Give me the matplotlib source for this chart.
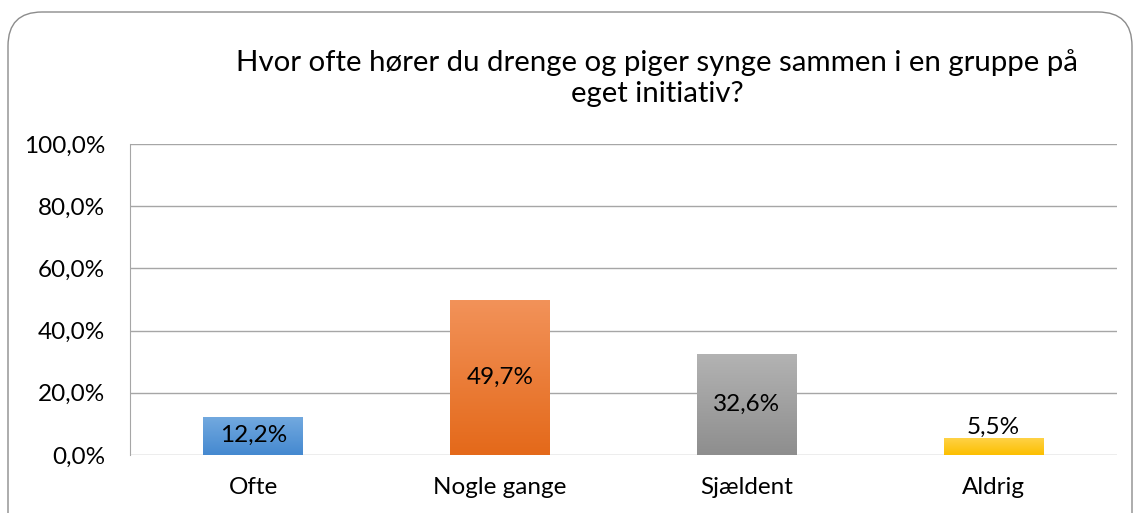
import numpy as np
import matplotlib.pyplot as plt
from matplotlib.patches import FancyBboxPatch

# data
categories = ["Ofte", "Nogle gange", "Sjældent", "Aldrig"]
values = [12.2, 49.7, 32.6, 5.5]
labels = ["12,2%", "49,7%", "32,6%", "5,5%"]
yticks = [0, 20, 40, 60, 80, 100]
ytick_labels = ["0,0%", "20,0%", "40,0%", "60,0%", "80,0%", "100,0%"]
title = "Hvor ofte hører du drenge og piger synge sammen i en gruppe på\neget initiativ?"

# gradient colours (top, bottom)
grads = [("#72a9df", "#4589d0"),
         ("#f29259", "#e4691a"),
         ("#b3b3b3", "#8e8e8e"),
         ("#ffd34a", "#fcbf00")]

plt.rcParams['font.family'] = ['Lato', 'DejaVu Sans']

W, H = 1133, 513
fig = plt.figure(figsize=(W / 100, H / 100), dpi=100)

# rounded outer frame (behind the axes)
frame = FancyBboxPatch((8 / W, -40 / H), (1124 / W), (501 + 40) / H,
                       boxstyle="round,pad=0,rounding_size=0.03",
                       transform=fig.transFigure, facecolor="white",
                       edgecolor="#8c8c8c", linewidth=1.0,
                       mutation_aspect=W / H, zorder=-1)
fig.patches.append(frame)

ax = fig.add_axes([130 / W, (H - 455) / H, (1117 - 130) / W, (455 - 144) / H])
ax.set_facecolor("none")

x = np.arange(len(categories))
bw = 0.405
bars = ax.bar(x, values, width=bw, color="none", zorder=3)

# fill bars with a vertical gradient
for b, (top, bot) in zip(bars, grads):
    c1 = np.array(plt.matplotlib.colors.to_rgb(top))
    c2 = np.array(plt.matplotlib.colors.to_rgb(bot))
    t = np.linspace(0, 1, 100)[:, None]
    img = (c1 * (1 - t) + c2 * t)[:, None, :]
    x0, h = b.get_x(), b.get_height()
    im = ax.imshow(img, extent=[x0, x0 + bw, 0, h], aspect="auto",
                   origin="upper", zorder=3)
    im.set_clip_path(b)

fs = 17.5
ax.set_xlim(-0.5, len(categories) - 0.5)
ax.set_ylim(0, 100)
ax.set_yticks(yticks)
ax.set_yticklabels(ytick_labels, fontsize=fs)
ax.set_xticks(x)
ax.set_xticklabels(categories, fontsize=fs)
ax.tick_params(length=0)
ax.tick_params(axis="y", pad=18)
ax.tick_params(axis="x", pad=16)
ax.grid(axis="y", color="#a6a6a6", linewidth=1.0, zorder=0)
for s in ["top", "right", "bottom"]:
    ax.spines[s].set_visible(False)
ax.spines["left"].set_color("#a6a6a6")

# data labels
for xi, v, lab in zip(x, values, labels):
    if v > 10:
        ax.text(xi, v / 2 if v > 20 else v - 6, lab, ha="center", va="center",
                fontsize=fs, zorder=4)
    else:
        ax.text(xi, v + 3.5, lab, ha="center", va="center", fontsize=fs,
                zorder=4)

fig.text(657 / W, 1 - 78 / H, title, ha="center", va="center",
         fontsize=21.2, linespacing=1.25)

fig.savefig("out.png", dpi=100)
